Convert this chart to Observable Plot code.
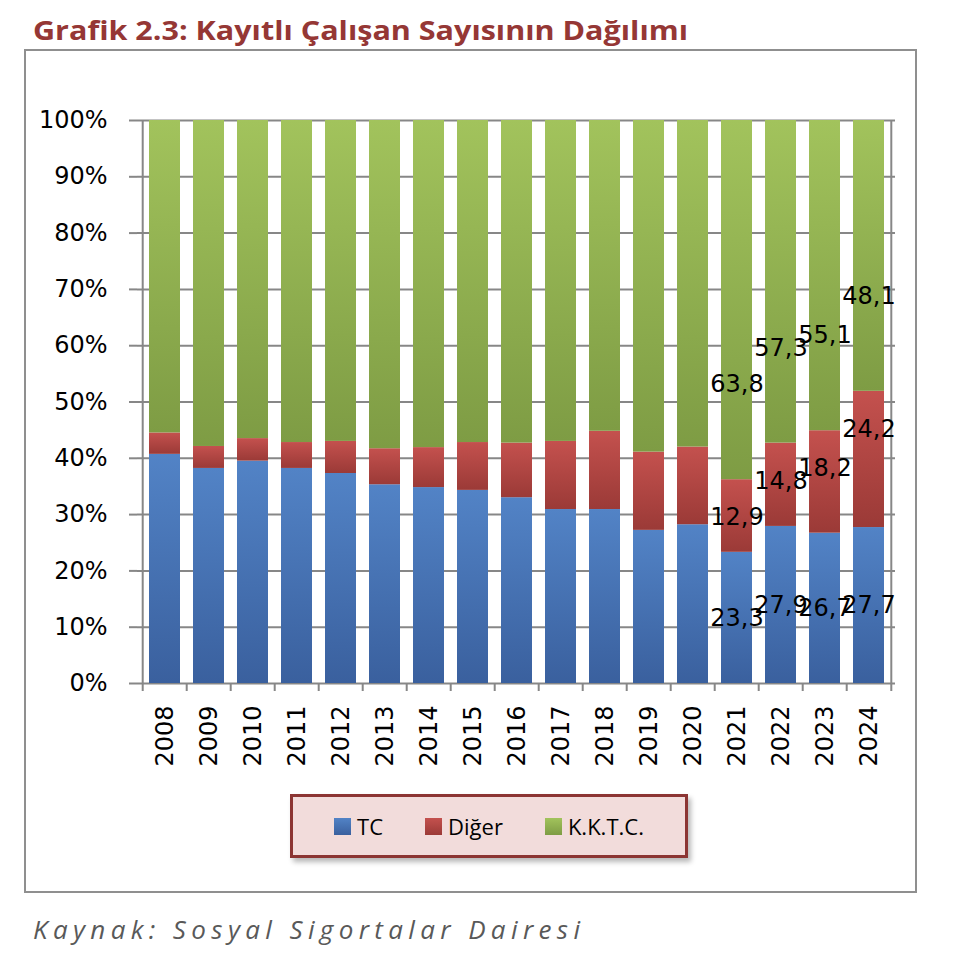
<!DOCTYPE html>
<html>
<head>
<meta charset="utf-8">
<script src="https://cdn.jsdelivr.net/npm/d3@7"></script>
<script src="https://cdn.jsdelivr.net/npm/@observablehq/plot@0.6"></script>
<style>
  body { margin: 0; background: #fff; }
  #page { position: relative; width: 958px; height: 977px; overflow: hidden; background: #fff; }
  #chart { position: absolute; left: 0; top: 0; }
  #frame { position: absolute; left: 24px; top: 49px; width: 893px; height: 844px; box-sizing: border-box;
           border: 2px solid #8f8f8f; pointer-events: none; }
  #title, #caption { position: absolute; left: 0; }
  #title { top: 0; }
  #caption { top: 895px; }
  #legend { position: absolute; left: 290px; top: 794px; width: 398px; height: 64px; box-sizing: border-box;
            border: 3px solid #8c3533; background: #f2dcdb; box-shadow: 3px 4px 5px rgba(0,0,0,0.28);
            display: flex; align-items: center; justify-content: center; gap: 42px;
            font-family: "Open Sans", sans-serif; font-size: 22px; color: #000; }
  #legend .item { display: flex; align-items: center; gap: 6px; }
  #legend .sw { width: 17px; height: 17px; display: inline-block; }
</style>
</head>
<body>
<div id="page">
  <svg id="title" width="958" height="50">
    <text x="33" y="40" textLength="655" lengthAdjust="spacingAndGlyphs"
          font-family="Open Sans" font-weight="700" font-size="27" fill="#953735">Grafik 2.3: Kayıtlı Çalışan Sayısının Dağılımı</text>
  </svg>
  <div id="chart"></div>
  <div id="frame"></div>
  <div id="legend"></div>
  <svg id="caption" width="958" height="70">
    <text x="33" y="44" textLength="547" lengthAdjust="spacing"
          font-family="Open Sans" font-style="italic" font-size="26" fill="#595959">Kaynak: Sosyal Sigortalar Dairesi</text>
  </svg>
</div>
<script>
// ---- data ----
const years = [2008, 2009, 2010, 2011, 2012, 2013, 2014, 2015, 2016, 2017, 2018, 2019, 2020, 2021, 2022, 2023, 2024];
const seriesNames = ["TC", "Diğer", "K.K.T.C."];
const tcValues    = [40.7, 38.2, 39.5, 38.2, 37.3, 35.3, 34.8, 34.3, 33.0, 30.9, 30.9, 27.2, 28.2, 23.3, 27.9, 26.7, 27.7];
const digerValues = [3.8, 3.9, 4.0, 4.6, 5.7, 6.4, 7.1, 8.5, 9.7, 12.1, 13.9, 13.9, 13.8, 12.9, 14.8, 18.2, 24.2];
const kktcValues  = [55.5, 57.9, 56.5, 57.2, 57.0, 58.3, 58.1, 57.2, 57.3, 57.0, 55.2, 58.9, 58.0, 63.8, 57.3, 55.1, 48.1];
const labeledYears = [2021, 2022, 2023, 2024];
const yTicks = [0, 10, 20, 30, 40, 50, 60, 70, 80, 90, 100];

// ---- styles ----
const gradients = {
  "TC":       {id: "gTC",   top: "#5283c6", bottom: "#3a609e"},
  "Diğer":    {id: "gDig",  top: "#c4514e", bottom: "#9b3a37"},
  "K.K.T.C.": {id: "gKKTC", top: "#a2c35c", bottom: "#7e9c44"}
};
const gray = "#878787";

const seriesValues = [tcValues, digerValues, kktcValues];
const rows = [];
years.forEach((year, i) => {
  seriesNames.forEach((s, j) => rows.push({year, series: s, value: seriesValues[j][i]}));
});
const fmt = v => String(v).replace(".", ",");
const showLabel = (d, s) => labeledYears.includes(d.year) && d.series === s ? fmt(d.value) : null;

const W = 958, H = 800, ML = 137, MR = 63, MT = 120, MB = 117;
const step = (W - ML - MR) / years.length;

function gradientDefs() {
  const defs = d3.create("svg:defs");
  for (const s of seriesNames) {
    const g = gradients[s];
    const lg = defs.append("linearGradient").attr("id", g.id).attr("x1", 0).attr("y1", 0).attr("x2", 0).attr("y2", 1);
    lg.append("stop").attr("offset", "0%").attr("stop-color", g.top);
    lg.append("stop").attr("offset", "100%").attr("stop-color", g.bottom);
  }
  return defs.node();
}

const stackOpts = {x: "year", y: "value", z: "series", order: seriesNames};

const chart = Plot.plot({
  width: W, height: H,
  marginLeft: ML, marginRight: MR, marginTop: MT, marginBottom: MB,
  style: {fontFamily: "DejaVu Sans", fontSize: "24px", background: "transparent", color: "#000"},
  x: {type: "band", domain: years, paddingInner: 0.3, paddingOuter: 0.15, label: null},
  y: {domain: [0, 100], label: null},
  marks: [
    gradientDefs,
    Plot.gridY({ticks: yTicks, stroke: gray, strokeOpacity: 1, strokeWidth: 2}),
    Plot.barY(rows, Plot.stackY({...stackOpts, fill: d => `url(#${gradients[d.series].id})`})),
    // axis lines at left and right of plot
    Plot.ruleX([years[0]], {x: d => d, dx: -step / 2, stroke: gray, strokeWidth: 2}),
    Plot.ruleX([years[years.length - 1]], {x: d => d, dx: step / 2, stroke: gray, strokeWidth: 2}),
    // y ticks
    Plot.axisY({ticks: yTicks, tickSize: 8, tickFormat: () => "", color: gray, strokeWidth: 2}),
    Plot.axisY({ticks: yTicks, tickSize: 0, tickPadding: 30, tickFormat: d => d + "%", fontSize: 24, color: "#000"}),
    // x ticks at category boundaries
    Plot.axisX({ticks: years, tickSize: 8, tickFormat: () => "", dx: -step / 2, color: gray, strokeWidth: 2}),
    Plot.axisX({ticks: [years[years.length - 1]], tickSize: 8, tickFormat: () => "", dx: step / 2, color: gray, strokeWidth: 2}),
    Plot.axisX({tickSize: 0, tickPadding: 22, tickRotate: -90, tickFormat: d => String(d), fontSize: 24, color: "#000"}),
    // data labels
    Plot.text(rows, Plot.stackY({...stackOpts, text: d => showLabel(d, "TC"), fontSize: 24, fill: "#000"})),
    Plot.text(rows, Plot.stackY2({...stackOpts, text: d => showLabel(d, "Diğer"), fontSize: 24, fill: "#000", dy: 38})),
    Plot.text(rows, Plot.stackY1({...stackOpts, text: d => showLabel(d, "K.K.T.C."), fontSize: 24, fill: "#000", dy: -95}))
  ]
});
document.getElementById("chart").appendChild(chart);

// legend
const legend = d3.select("#legend");
for (const s of seriesNames) {
  const g = gradients[s];
  const item = legend.append("div").attr("class", "item");
  item.append("span").attr("class", "sw").style("background", `linear-gradient(${g.top}, ${g.bottom})`);
  item.append("span").text(s);
}
</script>
</body>
</html>
